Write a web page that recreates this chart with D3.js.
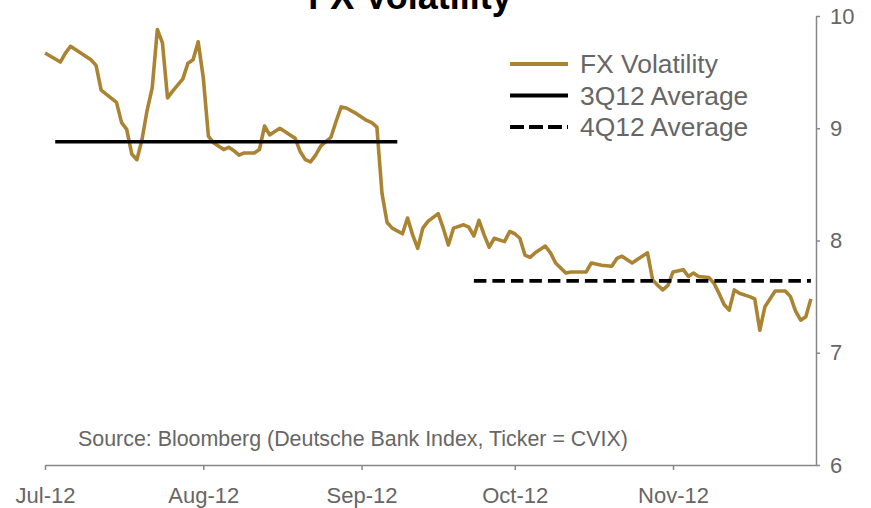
<!DOCTYPE html>
<html>
<head>
<meta charset="utf-8">
<title>FX Volatility</title>
<script src="https://cdn.jsdelivr.net/npm/d3@7"></script>
<style>
    body { margin: 0; background: #fff; }
    svg { font-family: Arial, "Liberation Sans", sans-serif; display: block; }
    .chart-title { font-weight: bold; font-size: 36px; fill: #000; }
    .axis text { fill: #666; font-size: 22px; }
    .axis path, .axis line { stroke: #878787; stroke-width: 1.5; }
    .legend text { fill: #666; font-size: 26.4px; }
    .source { fill: #666; font-size: 21.4px; }
</style>
</head>
<body>
<svg id="chart"></svg>
<script>
// CVIX daily readings
const dates = [
    '2012-07-01', '2012-07-04', '2012-07-05', '2012-07-06', '2012-07-08', '2012-07-10', '2012-07-11', '2012-07-12',
    '2012-07-15', '2012-07-16', '2012-07-17', '2012-07-18', '2012-07-19', '2012-07-20', '2012-07-21', '2012-07-22',
    '2012-07-23', '2012-07-24', '2012-07-25', '2012-07-26', '2012-07-28', '2012-07-29', '2012-07-30', '2012-07-31',
    '2012-08-01', '2012-08-02', '2012-08-03', '2012-08-05', '2012-08-06', '2012-08-07', '2012-08-08', '2012-08-09',
    '2012-08-11', '2012-08-12', '2012-08-13', '2012-08-14', '2012-08-15', '2012-08-16', '2012-08-18', '2012-08-19',
    '2012-08-20', '2012-08-21', '2012-08-22', '2012-08-23', '2012-08-24', '2012-08-26', '2012-08-27', '2012-08-28',
    '2012-08-29', '2012-08-31', '2012-09-02', '2012-09-03', '2012-09-04', '2012-09-05', '2012-09-06', '2012-09-07',
    '2012-09-09', '2012-09-10', '2012-09-11', '2012-09-12', '2012-09-13', '2012-09-14', '2012-09-16', '2012-09-17',
    '2012-09-18', '2012-09-19', '2012-09-21', '2012-09-22', '2012-09-23', '2012-09-24', '2012-09-25', '2012-09-26',
    '2012-09-27', '2012-09-29', '2012-09-30', '2012-10-01', '2012-10-02', '2012-10-03', '2012-10-04', '2012-10-05',
    '2012-10-07', '2012-10-08', '2012-10-09', '2012-10-11', '2012-10-12', '2012-10-15', '2012-10-16', '2012-10-18',
    '2012-10-20', '2012-10-21', '2012-10-22', '2012-10-24', '2012-10-25', '2012-10-27', '2012-10-28', '2012-10-29',
    '2012-10-30', '2012-10-31', '2012-11-01', '2012-11-03', '2012-11-04', '2012-11-05', '2012-11-06', '2012-11-08',
    '2012-11-09', '2012-11-10', '2012-11-11', '2012-11-12', '2012-11-13', '2012-11-14', '2012-11-16', '2012-11-17',
    '2012-11-18', '2012-11-19', '2012-11-21', '2012-11-23', '2012-11-24', '2012-11-25', '2012-11-26', '2012-11-27',
    '2012-11-28'
];
const values = [
    9.67, 9.59, 9.67, 9.73, 9.67, 9.61, 9.56, 9.34,
    9.23, 9.05, 8.99, 8.77, 8.72, 8.90, 9.16, 9.36,
    9.88, 9.76, 9.27, 9.33, 9.44, 9.58, 9.61, 9.77,
    9.45, 8.93, 8.87, 8.81, 8.83, 8.80, 8.76, 8.78,
    8.78, 8.81, 9.02, 8.94, 8.97, 9.00, 8.94, 8.91,
    8.79, 8.72, 8.70, 8.76, 8.84, 8.92, 9.06, 9.19,
    9.18, 9.13, 9.07, 9.05, 9.01, 8.42, 8.16, 8.11,
    8.06, 8.20, 8.05, 7.93, 8.11, 8.17, 8.24, 8.11,
    7.96, 8.11, 8.14, 8.12, 8.04, 8.18, 8.05, 7.94,
    8.02, 7.99, 8.08, 8.06, 8.02, 7.87, 7.85, 7.89,
    7.95, 7.89, 7.80, 7.71, 7.72, 7.72, 7.80, 7.78,
    7.77, 7.84, 7.86, 7.80, 7.83, 7.89, 7.65, 7.60,
    7.56, 7.60, 7.72, 7.74, 7.68, 7.71, 7.68, 7.67,
    7.62, 7.53, 7.43, 7.38, 7.56, 7.53, 7.50, 7.48,
    7.20, 7.41, 7.55, 7.55, 7.50, 7.37, 7.29, 7.32,
    7.48
];

// quarterly averages
const avgLabels = ['3Q12 Average', '4Q12 Average'];
const avgStarts = ['2012-07-03', '2012-09-23'];
const avgEnds = ['2012-09-08', '2012-11-28'];
const avgValues = [8.88, 7.64];

const xTicks = ['2012-07-01', '2012-08-01', '2012-09-01', '2012-10-01', '2012-11-01'];
const xDomain = ['2012-07-01', '2012-11-29'];
const yTicks = [6, 7, 8, 9, 10];
const seriesLabel = 'FX Volatility';

class LineChart {
    constructor(_config) {
        this.config = {
            parentElement: _config.parentElement,
            width: _config.width,
            height: _config.height,
            margin: _config.margin
        };
        const parse = d3.utcParse('%Y-%m-%d');
        this.parse = parse;
        this.data = dates.map((d, i) => ({date: parse(d), value: values[i]}));
        this.averages = avgLabels.map((label, i) => ({
            label: label,
            start: parse(avgStarts[i]),
            end: parse(avgEnds[i]),
            value: avgValues[i]
        }));
        this.initVis();
    }

    initVis() {
        let vis = this;

        vis.width = vis.config.width - vis.config.margin.left - vis.config.margin.right;
        vis.height = vis.config.height - vis.config.margin.top - vis.config.margin.bottom;

        vis.svg = d3.select(vis.config.parentElement)
            .attr('width', vis.config.width)
            .attr('height', vis.config.height);

        // title sits partly above the top edge, as in the original
        vis.svg.append('text')
            .attr('class', 'chart-title')
            .attr('x', 410)
            .attr('y', 9)
            .attr('text-anchor', 'middle')
            .text(seriesLabel);

        vis.chart = vis.svg.append('g')
            .attr('transform', `translate(${vis.config.margin.left},${vis.config.margin.top})`);

        vis.xScale = d3.scaleUtc()
            .domain(xDomain.map(vis.parse))
            .range([0, vis.width]);

        vis.yScale = d3.scaleLinear()
            .domain([6, 10])
            .range([vis.height, 0]);

        vis.xAxis = d3.axisBottom(vis.xScale)
            .tickValues(xTicks.map(vis.parse))
            .tickFormat(d3.utcFormat('%b-%y'))
            .tickSize(5)
            .tickSizeOuter(0);

        vis.yAxis = d3.axisRight(vis.yScale)
            .tickValues(yTicks)
            .tickFormat(d3.format('d'))
            .tickSize(4)
            .tickSizeOuter(0);

        vis.xAxisG = vis.chart.append('g')
            .attr('class', 'axis x-axis')
            .attr('transform', `translate(0,${vis.height})`);

        vis.yAxisG = vis.chart.append('g')
            .attr('class', 'axis y-axis')
            .attr('transform', `translate(${vis.width},0)`);

        vis.chart.append('text')
            .attr('class', 'source')
            .attr('x', 33)
            .attr('y', vis.height - 19)
            .text('Source: Bloomberg (Deutsche Bank Index, Ticker = CVIX)');

        vis.updateVis();
    }

    updateVis() {
        let vis = this;

        vis.line = d3.line()
            .x(d => vis.xScale(d.date))
            .y(d => vis.yScale(d.value));

        vis.renderVis();
    }

    renderVis() {
        let vis = this;

        vis.xAxisG.call(vis.xAxis);
        vis.xAxisG.selectAll('.tick text').attr('y', 22);
        vis.yAxisG.call(vis.yAxis);
        vis.yAxisG.selectAll('.tick text').attr('x', 14);

        vis.chart.append('path')
            .datum(vis.data)
            .attr('fill', 'none')
            .attr('stroke', '#AB8433')
            .attr('stroke-width', 3.6)
            .attr('stroke-linejoin', 'round')
            .attr('d', vis.line);

        vis.chart.selectAll('.avg-line')
            .data(vis.averages)
            .join('line')
            .attr('class', 'avg-line')
            .attr('x1', d => vis.xScale(d.start))
            .attr('x2', d => vis.xScale(d.end))
            .attr('y1', d => vis.yScale(d.value))
            .attr('y2', d => vis.yScale(d.value))
            .attr('stroke', '#000')
            .attr('stroke-width', 3.6)
            .attr('stroke-dasharray', (d, i) => i === 1 ? '12.5,6' : null);

        // legend
        const items = [
            {label: seriesLabel, color: '#AB8433', dash: null},
            {label: avgLabels[0], color: '#000', dash: null},
            {label: avgLabels[1], color: '#000', dash: '14,5'}
        ];
        const legend = vis.svg.append('g')
            .attr('class', 'legend')
            .attr('transform', 'translate(510,64)');
        const rows = legend.selectAll('g')
            .data(items)
            .join('g')
            .attr('transform', (d, i) => `translate(0,${i * 31.5})`);
        rows.append('line')
            .attr('x1', 0)
            .attr('x2', 58)
            .attr('stroke', d => d.color)
            .attr('stroke-width', 4)
            .attr('stroke-dasharray', d => d.dash);
        rows.append('text')
            .attr('x', 70)
            .attr('dy', '0.35em')
            .text(d => d.label);
    }
}

new LineChart({
    parentElement: '#chart',
    width: 871,
    height: 508,
    margin: {top: 16, right: 55, bottom: 43, left: 45}
});
</script>
</body>
</html>
